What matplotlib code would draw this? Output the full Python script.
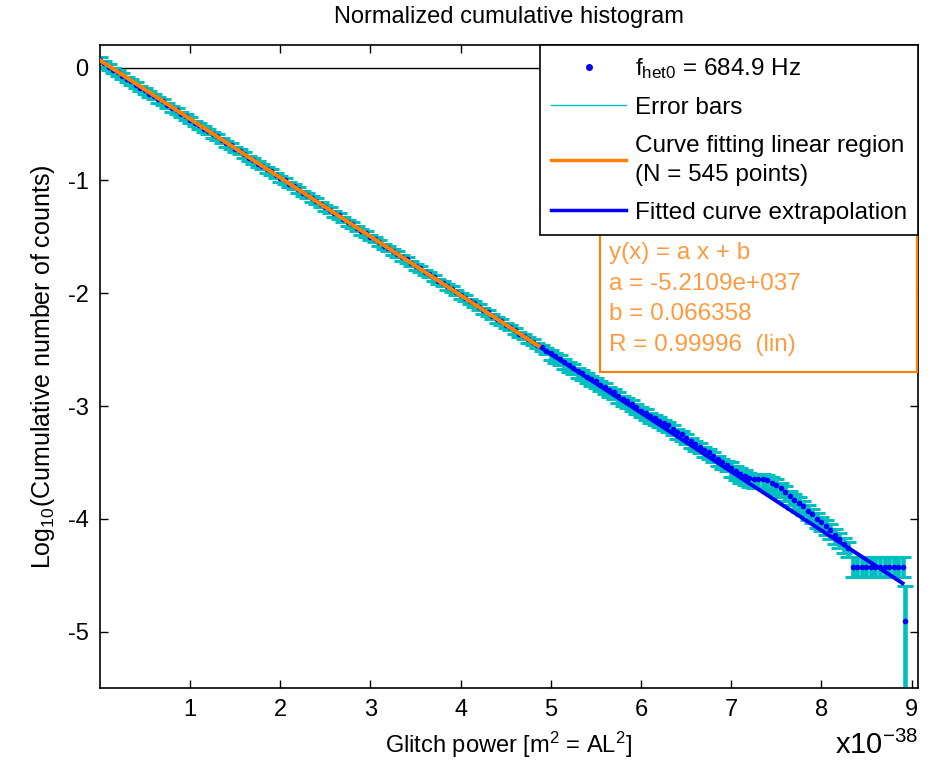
import matplotlib

matplotlib.use("Agg")
import matplotlib.pyplot as plt
import numpy as np
from matplotlib.lines import Line2D
from matplotlib.patches import Rectangle

plt.rcParams["font.family"] = ["Liberation Sans", "DejaVu Sans"]
plt.rcParams["mathtext.default"] = "regular"
plt.rcParams["axes.unicode_minus"] = False

# cumulative histogram points, x in units of 1e-38
power = [
    0.00, 0.05, 0.10, 0.15, 0.20, 0.25, 0.30, 0.35, 0.40, 0.45,
    0.50, 0.55, 0.60, 0.65, 0.70, 0.75, 0.80, 0.85, 0.90, 0.95,
    1.00, 1.05, 1.10, 1.15, 1.20, 1.25, 1.30, 1.35, 1.40, 1.45,
    1.50, 1.55, 1.60, 1.65, 1.70, 1.75, 1.80, 1.85, 1.90, 1.95,
    2.00, 2.05, 2.10, 2.15, 2.20, 2.25, 2.30, 2.35, 2.40, 2.45,
    2.50, 2.55, 2.60, 2.65, 2.70, 2.75, 2.80, 2.85, 2.90, 2.95,
    3.00, 3.05, 3.10, 3.15, 3.20, 3.25, 3.30, 3.35, 3.40, 3.45,
    3.50, 3.55, 3.60, 3.65, 3.70, 3.75, 3.80, 3.85, 3.90, 3.95,
    4.00, 4.05, 4.10, 4.15, 4.20, 4.25, 4.30, 4.35, 4.40, 4.45,
    4.50, 4.55, 4.60, 4.65, 4.70, 4.75, 4.80, 4.85, 4.90, 4.95,
    5.00, 5.05, 5.10, 5.15, 5.20, 5.25, 5.30, 5.35, 5.40, 5.45,
    5.50, 5.55, 5.60, 5.65, 5.70, 5.75, 5.80, 5.85, 5.90, 5.95,
    6.00, 6.05, 6.10, 6.15, 6.20, 6.25, 6.30, 6.35, 6.40, 6.45,
    6.50, 6.55, 6.60, 6.65, 6.70, 6.75, 6.80, 6.85, 6.90, 6.95,
    7.00, 7.05, 7.10, 7.15, 7.20, 7.25, 7.30, 7.35, 7.40, 7.45,
    7.50, 7.55, 7.60, 7.65, 7.70, 7.75, 7.80, 7.85, 7.90, 7.95,
    8.00, 8.05, 8.10, 8.15, 8.20, 8.25, 8.30,
    8.35, 8.40, 8.45, 8.50, 8.55, 8.60, 8.65, 8.70, 8.75, 8.80, 8.85, 8.90,
    8.93,
]
log_counts = [
    0.07, 0.04, 0.01, -0.02, -0.04, -0.07, -0.10, -0.12, -0.15, -0.18,
    -0.20, -0.23, -0.25, -0.28, -0.30, -0.33, -0.36, -0.38, -0.41, -0.43,
    -0.46, -0.49, -0.51, -0.54, -0.56, -0.59, -0.61, -0.64, -0.67, -0.69,
    -0.72, -0.74, -0.77, -0.80, -0.82, -0.85, -0.87, -0.90, -0.92, -0.95,
    -0.98, -1.00, -1.03, -1.05, -1.08, -1.11, -1.13, -1.16, -1.18, -1.21,
    -1.24, -1.26, -1.29, -1.31, -1.34, -1.37, -1.39, -1.42, -1.45, -1.47,
    -1.50, -1.52, -1.55, -1.58, -1.60, -1.63, -1.65, -1.68, -1.70, -1.73,
    -1.76, -1.78, -1.81, -1.83, -1.86, -1.89, -1.91, -1.94, -1.96, -1.99,
    -2.02, -2.04, -2.07, -2.09, -2.12, -2.15, -2.17, -2.20, -2.23, -2.25,
    -2.28, -2.30, -2.33, -2.36, -2.38, -2.41, -2.43, -2.46, -2.48, -2.51,
    -2.53, -2.56, -2.58, -2.61, -2.64, -2.66, -2.69, -2.71, -2.74, -2.76,
    -2.78, -2.81, -2.83, -2.86, -2.88, -2.91, -2.94, -2.96, -2.98, -3.01,
    -3.04, -3.06, -3.09, -3.11, -3.13, -3.15, -3.17, -3.20, -3.23, -3.25,
    -3.28, -3.31, -3.34, -3.36, -3.39, -3.41, -3.44, -3.47, -3.50, -3.52,
    -3.55, -3.58, -3.60, -3.62, -3.64, -3.65, -3.65, -3.65, -3.66, -3.68,
    -3.70, -3.73, -3.76, -3.80, -3.83, -3.86, -3.89, -3.93, -3.96, -4.00,
    -4.03, -4.06, -4.10, -4.14, -4.18, -4.22, -4.26,
    -4.43, -4.43, -4.43, -4.43, -4.43, -4.43, -4.43, -4.43, -4.43, -4.43, -4.43, -4.43,
    -4.91,
]
err_low = (
    [0.03] * 100
    + [0.06] * 40
    + [0.08] * 27
    + [0.09] * 12
    + [2.0]
)
err_high = (
    [0.02] * 100
    + [0.03] * 40
    + [0.05] * 27
    + [0.09] * 12
    + [0.31]
)

# linear fit y = a x + b  (a given per 1e-38 unit)
fit_a = -0.52109
fit_b = 0.066358
fit_range = [0.0, 4.9]
extrap_range = [4.9, 8.9]

CYAN = "#00BFBF"
BLUE = "#0000FF"
ORANGE = "#FF8000"
TEXT_ORANGE = "#FF9A40"

fig = plt.figure(figsize=(9.42, 7.64), dpi=100)
ax = fig.add_axes([0.106, 0.0995, 0.8684, 0.8415])

ax.axhline(0, color="black", linewidth=1, zorder=1)

ax.errorbar(
    power,
    log_counts,
    yerr=[err_low, err_high],
    fmt="none",
    ecolor=CYAN,
    elinewidth=3.3,
    capsize=5.5,
    capthick=2.2,
    zorder=2,
)
ax.plot(power, log_counts, ".", color=BLUE, markersize=6, zorder=3)

fit_x = np.array(fit_range)
ext_x = np.array(extrap_range)
ax.plot(fit_x, fit_a * fit_x + fit_b, color=ORANGE, linewidth=3, zorder=4)
ax.plot(ext_x, fit_a * ext_x + fit_b, color=BLUE, linewidth=2.8, zorder=4)

ax.set_xlim(0, 9.07)
ax.set_ylim(-5.5, 0.2)
ax.set_xticks(range(1, 10))
ax.set_yticks(range(-5, 1))
ax.tick_params(direction="in", top=True, right=True, length=6, width=1,
               labelsize=17, pad=8)
for spine in ax.spines.values():
    spine.set_linewidth(1.2)

ax.set_title("Normalized cumulative histogram", fontsize=17, pad=16)
ax.set_xlabel("Glitch power [m$^2$ = AL$^2$]", fontsize=17, labelpad=6)
ax.set_ylabel("Log$_{10}$(Cumulative number of counts)", fontsize=18,
              labelpad=8)

handles = [
    Line2D([], [], linestyle="none", marker=".", color=BLUE, markersize=8),
    Line2D([], [], color=CYAN, linewidth=1),
    Line2D([], [], color=ORANGE, linewidth=2.5),
    Line2D([], [], color=BLUE, linewidth=2.5),
]
labels = [
    "f$_{het0}$ = 684.9 Hz",
    "Error bars",
    "Curve fitting linear region\n(N = 545 points)",
    "Fitted curve extrapolation",
]
leg = ax.legend(
    handles,
    labels,
    loc="upper right",
    bbox_to_anchor=(1, 1),
    borderaxespad=0,
    fontsize=17.5,
    fancybox=False,
    framealpha=1,
    edgecolor="black",
    handlelength=3.1,
    handletextpad=0.35,
    labelspacing=0.65,
    borderpad=0.45,
)
leg.get_texts()[2].set_linespacing(1.45)
leg.get_frame().set_linewidth(1.2)
leg.set_zorder(6)

box = Rectangle((0.612, 0.491), 0.387, 0.217, transform=ax.transAxes,
                facecolor="white", edgecolor=ORANGE, linewidth=1.5, zorder=5)
ax.add_patch(box)
fit_lines = [
    "y(x) = a x + b",
    "a = -5.2109e+037",
    "b = 0.066358",
    "R = 0.99996  (lin)",
]
line_y = [0.677, 0.629, 0.581, 0.533]
for text, y in zip(fit_lines, line_y):
    ax.text(0.623, y, text, transform=ax.transAxes, color=TEXT_ORANGE,
            fontsize=17.5, va="center", ha="left", zorder=6)

fig.text(0.975, 0.025, "x10$^{-38}$", fontsize=21, ha="right", va="center")

fig.savefig("out.png", dpi=100)
